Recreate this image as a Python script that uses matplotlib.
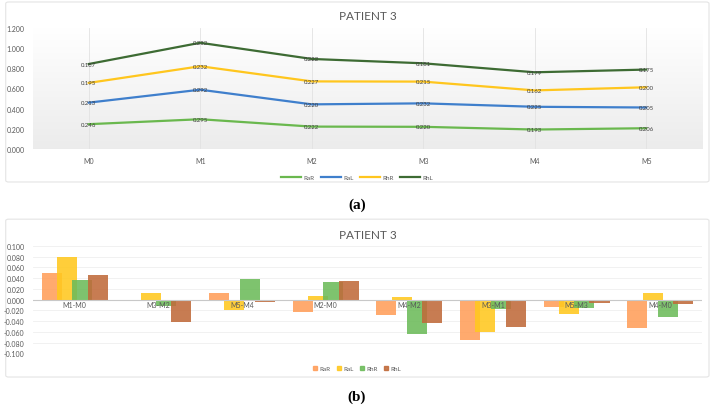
import numpy as np
import matplotlib.pyplot as plt
from matplotlib.patches import FancyBboxPatch, Patch

# panel (a): values per series at each session (stacked line chart)
months = ['M0', 'M1', 'M2', 'M3', 'M4', 'M5']
line_rar = [0.246, 0.295, 0.222, 0.220, 0.193, 0.206]
line_ral = [0.213, 0.292, 0.220, 0.232, 0.225, 0.205]
line_rhr = [0.195, 0.232, 0.227, 0.215, 0.162, 0.200]
line_rhl = [0.187, 0.232, 0.222, 0.181, 0.179, 0.175]
y_ticks_a = [0.0, 0.2, 0.4, 0.6, 0.8, 1.0, 1.2]

# panel (b): differences between sessions
pairs = ['M1-M0', 'M3-M2', 'M5-M4', 'M2-M0', 'M4-M2', 'M3-M1', 'M5-M3', 'M4-M0']
bar_rar = [0.049, -0.002, 0.013, -0.024, -0.029, -0.075, -0.014, -0.053]
bar_ral = [0.079, 0.012, -0.020, 0.007, 0.005, -0.060, -0.027, 0.012]
bar_rhr = [0.037, -0.012, 0.038, 0.032, -0.065, -0.017, -0.015, -0.033]
bar_rhl = [0.045, -0.041, -0.004, 0.035, -0.043, -0.051, -0.006, -0.008]
y_ticks_b = [-0.1, -0.08, -0.06, -0.04, -0.02, 0.0, 0.02, 0.04, 0.06, 0.08, 0.1]

names = ['RaR', 'RaL', 'RhR', 'RhL']
line_colors = ['#6ab84e', '#3f7fcc', '#ffc61e', '#3d6b33']
bar_colors = ['#ff9e5a', '#ffc81e', '#6cbb5a', '#c06a3a']

txt = '#595959'
font = ['Lato', 'DejaVu Sans']

fig = plt.figure(figsize=(7.14, 4.10), dpi=100)

# rounded frames around each chart
for y0, h in [(0.5537, 0.439), (0.078, 0.385)]:
    fig.patches.append(FancyBboxPatch((0.008, y0), 0.985, h, transform=fig.transFigure,
                                      boxstyle='round,pad=0,rounding_size=0.004',
                                      fc='none', ec='#e4e4e4', lw=0.8, zorder=-1))

# ---------- (a) ----------
ax1 = fig.add_axes([0.0462, 0.634, 0.937, 0.296])
ax1.set_facecolor('none')
x = np.arange(len(months))
series = [line_rar, line_ral, line_rhr, line_rhl]
stacked = np.cumsum(np.array(series), axis=0)

# light plot-area gradient, white at top to pale grey at bottom
shade = np.linspace(1.0, 0.925, 100)
grad = np.dstack([shade, shade, shade]).reshape(-1, 1, 3)
ax1.imshow(grad, extent=[-0.5, 5.5, 0, 1.2], aspect='auto', origin='upper', zorder=0)

for xi in x:
    ax1.axvline(xi, color='#e2e2e2', lw=0.6, zorder=1)

for i, vals in enumerate(series):
    ax1.plot(x, stacked[i], color=line_colors[i], lw=1.6, label=names[i], zorder=3)
    for xi, yi, v in zip(x, stacked[i], vals):
        ax1.text(xi, yi, f'{v:.3f}', ha='center', va='center', fontsize=4.3, color='#404040',
                 family=font, zorder=4)

ax1.set_xlim(-0.5, 5.5)
ax1.set_ylim(0, 1.2)
ax1.set_yticks(y_ticks_a)
ax1.set_yticklabels([f'{t:.3f}' for t in y_ticks_a])
ax1.set_xticks(x)
ax1.set_xticklabels(months)
for s in ax1.spines.values():
    s.set_visible(False)
ax1.tick_params(length=0, labelsize=5, labelcolor=txt, pad=6)
for lab in ax1.get_xticklabels() + ax1.get_yticklabels():
    lab.set_family(font)
ax1.set_title('PATIENT 3', fontsize=8.5, color=txt, family=font, pad=6)
ax1.legend(loc='upper center', bbox_to_anchor=(0.5, 0.585), bbox_transform=fig.transFigure,
           ncol=4, frameon=False, handlelength=3.2, columnspacing=1.0,
           handletextpad=0.4, labelcolor=txt, prop={'family': font, 'size': 4.5})

fig.text(0.5, 0.5, '(a)', ha='center', va='center', fontsize=11, weight='bold',
         family=['Liberation Serif', 'DejaVu Serif'])

# ---------- (b) ----------
ax2 = fig.add_axes([0.0462, 0.1359, 0.937, 0.262])
ax2.set_facecolor('none')
xb = np.arange(len(pairs))
step = 0.183
width = 0.24
bars = [bar_rar, bar_ral, bar_rhr, bar_rhl]
for i, vals in enumerate(bars):
    ax2.bar(xb + (i - 1.5) * step, vals, width=width, color=bar_colors[i], alpha=0.88,
            label=names[i], zorder=3)

for t in y_ticks_b:
    ax2.axhline(t, color='#efefef', lw=0.6, zorder=1)
ax2.axhline(0, color='#c8c8c8', lw=0.8, zorder=4)
for xi, p in zip(xb, pairs):
    ax2.text(xi, -0.003, p, ha='center', va='top', fontsize=5, color=txt, family=font, zorder=5)

ax2.set_xlim(-0.5, 7.5)
ax2.set_ylim(-0.1, 0.1)
ax2.set_yticks(y_ticks_b)
ax2.set_yticklabels([f'{t:.3f}' for t in y_ticks_b])
ax2.set_xticks([])
for s in ax2.spines.values():
    s.set_visible(False)
ax2.tick_params(length=0, labelsize=5, labelcolor=txt, pad=6)
for lab in ax2.get_yticklabels():
    lab.set_family(font)
ax2.set_title('PATIENT 3', fontsize=8.5, color=txt, family=font, pad=6)
handles = [Patch(color=c, alpha=0.88) for c in bar_colors]
ax2.legend(handles, names, loc='upper center', bbox_to_anchor=(0.5, 0.118),
           bbox_transform=fig.transFigure, ncol=4, frameon=False, handlelength=0.6,
           handleheight=0.6, columnspacing=1.0, handletextpad=0.4, labelcolor=txt,
           prop={'family': font, 'size': 4.5})

fig.text(0.5, 0.03, '(b)', ha='center', va='center', fontsize=11, weight='bold',
         family=['Liberation Serif', 'DejaVu Serif'])

fig.savefig('out.png', dpi=100)
